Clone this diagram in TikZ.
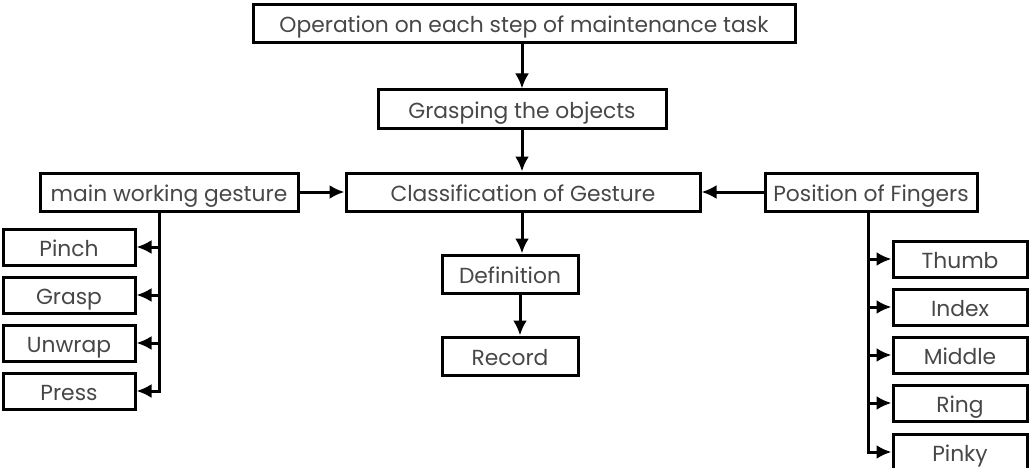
\documentclass[tikz,border=0pt]{standalone}
\usepackage{fontspec}
\setmainfont{Poppins}
\usetikzlibrary{arrows.meta,positioning}

\tikzset{
  box/.style={draw, line width=3pt, minimum height=38pt, inner sep=0pt,
    text height=20pt, text depth=2pt,
    text=black!72, font=\fontsize{21.8}{24}\selectfont},
  leaf/.style={box, minimum height=36pt}
}

\begin{document}
\begin{tikzpicture}[x=1pt,y=-1pt,auto,>={Latex[length=15pt,width=14pt]},line width=3pt]
    \useasboundingbox (0,0) rectangle (1035,468);
    % main chain
    \node[box, minimum width=542pt] (op) at (524,24) {Operation on each step of maintenance task};
    \node[box, minimum width=288pt] (grasping) at (522,109) {Grasping the objects};
    \node[box, minimum width=354pt] (class) at (523,192) {Classification of Gesture};
    \node[box, minimum width=136pt] (def) at (510,274) {Definition};
    \node[box, minimum width=136pt] (rec) at (510,356) {Record};
    % side inputs
    \node[box, minimum width=258pt] (work) at (169,192) {main working gesture};
    \node[box, minimum width=212pt] (fingers) at (871,192) {Position of Fingers};
    % gestures
    \node[leaf, minimum width=132pt] (pinch) at (69,247) {Pinch};
    \node[leaf, minimum width=132pt] (grasp) at (69,295) {Grasp};
    \node[leaf, minimum width=132pt] (unwrap) at (69,343) {Unwrap};
    \node[leaf, minimum width=132pt] (press) at (69,391) {Press};
    % fingers
    \node[leaf, minimum width=134pt] (thumb) at (960,259) {Thumb};
    \node[leaf, minimum width=134pt] (index) at (960,307) {Index};
    \node[leaf, minimum width=134pt] (middle) at (960,355) {Middle};
    \node[leaf, minimum width=134pt] (ring) at (960,403) {Ring};
    \node[leaf, minimum width=134pt] (pinky) at (960,452) {Pinky};
    % arrows down the middle
    \draw[->] (op.south -| grasping) -- (grasping.north);
    \draw[->] (grasping.south) -- (class.north -| grasping);
    \draw[->] (class.south -| grasping) -- (def.north -| grasping);
    \draw[->] ([xshift=-2pt]def.south -| grasping) -- ([xshift=-2pt]rec.north -| grasping);
    % arrows into classification
    \draw[->] (work.east) -- (class.west);
    \draw[->] (fingers.west) -- (class.east);
    % branches
    \foreach \g in {pinch,grasp,unwrap,press}
      \draw[->] ([xshift=-10pt]work.south) |- (\g.east);
    \foreach \f in {thumb,index,middle,ring,pinky}
      \draw[->] ([xshift=-3pt]fingers.south) |- (\f.west);
\end{tikzpicture}
\end{document}
